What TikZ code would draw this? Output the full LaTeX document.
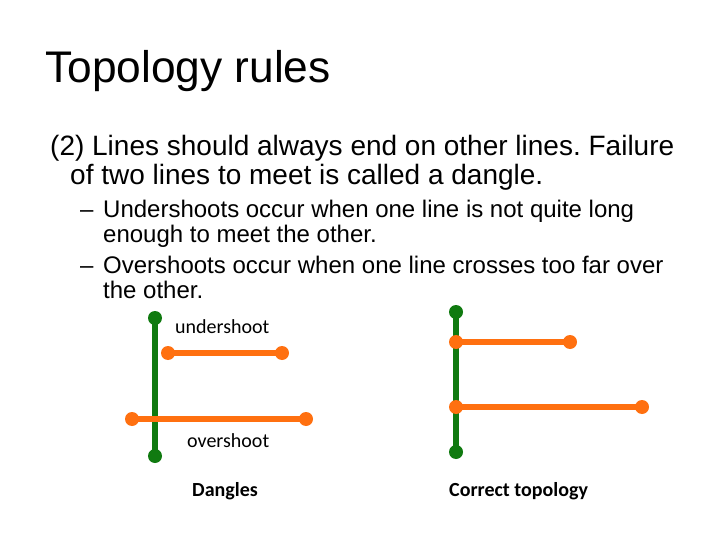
\documentclass[tikz,border=0pt]{standalone}
\usepackage{fontspec}
\setmainfont{Liberation Sans}
\newfontfamily\calibri{Carlito}
\definecolor{lgreen}{RGB}{16,122,16}
\definecolor{lorange}{RGB}{255,112,16}
\frenchspacing
\begin{document}
\begin{tikzpicture}[x=1pt,y=-1pt,
  txt/.style={anchor=base west,inner sep=0pt},
  gline/.style={draw=lgreen,line width=5.5pt},
  oline/.style={draw=lorange,line width=5.5pt},
  gdot/.style={circle,fill=lgreen,inner sep=0pt,minimum size=14pt},
  odot/.style={circle,fill=lorange,inner sep=0pt,minimum size=14pt},
  lbl/.style={inner sep=0pt,font=\calibri\fontsize{20}{24}\selectfont},
  blbl/.style={inner sep=0pt,font=\calibri\bfseries\fontsize{20}{24}\selectfont}]
\useasboundingbox (0,0) rectangle (720,540);
\node[txt,font=\fontsize{44.3}{50}\selectfont] (title) at (45,83) {Topology rules};
\begin{scope}[every node/.style={txt,font=\fontsize{28}{32}\selectfont}]
\node (l1) at (50,156) {(2) Lines should always end on other lines. Failure};
\node (l2) at (70,185) {of two lines to meet is called a dangle.};
\end{scope}
\begin{scope}[every node/.style={txt,font=\fontsize{24}{28}\selectfont}]
\node (d1) at (80,218) {–};
\node (s1) at (103,218) {Undershoots occur when one line is not quite long};
\node (s1b) at (103,243) {enough to meet the other.};
\node (d2) at (80,273) {–};
\node (s2) at (103,273) {Overshoots occur when one line crosses too far over};
\node (s2b) at (103,298) {the other.};
\end{scope}
% Dangles
\coordinate (ga) at (155,318);
\coordinate (gb) at (155,456);
\coordinate (ua) at (168,353);
\coordinate (ub) at (282,353);
\coordinate (oa) at (132,419);
\coordinate (ob) at (306,419);
\draw[gline] (ga) -- (gb);
\draw[oline] (ua) -- (ub);
\draw[oline] (oa) -- (ob);
\node[gdot] (gad) at (ga) {};
\node[gdot] (gbd) at (gb) {};
\node[odot] (uad) at (ua) {};
\node[odot] (ubd) at (ub) {};
\node[odot] (oad) at (oa) {};
\node[odot] (obd) at (ob) {};
\node[lbl,anchor=base west] (under) at (175,333) {undershoot};
\node[lbl,anchor=base west] (over) at (187,447) {overshoot};
\node[blbl,anchor=base west] (dang) at (192,496) {Dangles};
% Correct
\coordinate (ca) at (456,312);
\coordinate (cb) at (456,452);
\coordinate (c1a) at (456,342);
\coordinate (c1b) at (570,342);
\coordinate (c2a) at (456,407);
\coordinate (c2b) at (642,407);
\draw[gline] (ca) -- (cb);
\draw[oline] (c1a) -- (c1b);
\draw[oline] (c2a) -- (c2b);
\node[gdot] (cad) at (ca) {};
\node[gdot] (cbd) at (cb) {};
\node[odot] (c1ad) at (c1a) {};
\node[odot] (c1bd) at (c1b) {};
\node[odot] (c2ad) at (c2a) {};
\node[odot] (c2bd) at (c2b) {};
\node[blbl,anchor=base west] (corr) at (449,496) {Correct topology};
\end{tikzpicture}
\end{document}
